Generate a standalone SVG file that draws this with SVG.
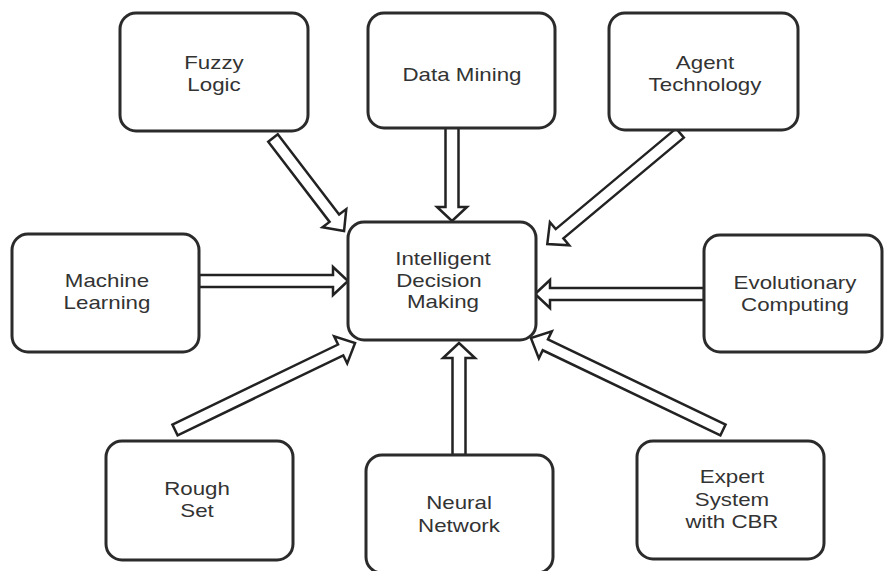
<svg xmlns="http://www.w3.org/2000/svg" width="884" height="571" viewBox="0 0 884 571">
  <style>
    .box { fill: #fff; stroke: #2b2b2b; stroke-width: 3; }
    .lbl { font-family: "Liberation Sans", Arial, sans-serif; font-size: 18px; fill: #333; text-anchor: middle; }
    .arr { fill: #fff; stroke: #222; stroke-width: 2.5; stroke-linejoin: miter; }
  </style>
  <rect width="884" height="571" fill="#fff"/>

  <!-- hollow block arrows pointing at the central node -->
  <g id="connectors">
    <!-- each arrow is drawn along +x from its tail, then rotated into place -->
    <path class="arr" transform="translate(273,138) rotate(52.6)" d="M0,-6 H101 V-15 L117,0 L101,15 V6 H0 Z"/>
    <path class="arr" transform="translate(452,127) rotate(90)" d="M0,-6.5 H80 V-15 L94,0 L80,15 V6.5 H0 Z"/>
    <path class="arr" transform="translate(680,133) rotate(140.1)" d="M0,-6 H157 V-15 L173,0 L157,15 V6 H0 Z"/>
    <path class="arr" transform="translate(199,281) rotate(0)" d="M0,-6 H134 V-14 L149,0 L134,14 V6 H0 Z"/>
    <path class="arr" transform="translate(704,294) rotate(180)" d="M0,-6 H154 V-14 L169,0 L154,14 V6 H0 Z"/>
    <path class="arr" transform="translate(175,430) rotate(-25.8)" d="M0,-6 H184 V-15 L200,0 L184,15 V6 H0 Z"/>
    <path class="arr" transform="translate(459,455) rotate(-90)" d="M0,-6.5 H97 V-16 L112,0 L97,16 V6.5 H0 Z"/>
    <path class="arr" transform="translate(723,430) rotate(205.6)" d="M0,-6 H197 V-15 L213,0 L197,15 V6 H0 Z"/>
  </g>

  <!-- labels use a horizontally widened face: matrix(1.24 0 0 1 cx 0) -->
  <g id="fuzzy-logic">
    <rect class="box" x="120" y="13" width="188" height="118" rx="16"/>
    <text class="lbl" transform="matrix(1.24 0 0 1 214 0)" y="69">Fuzzy</text>
    <text class="lbl" transform="matrix(1.24 0 0 1 214 0)" y="91">Logic</text>
  </g>
  <g id="data-mining">
    <rect class="box" x="368" y="13" width="187" height="115" rx="16"/>
    <text class="lbl" transform="matrix(1.24 0 0 1 462 0)" y="81">Data Mining</text>
  </g>
  <g id="agent-technology">
    <rect class="box" x="609" y="13" width="189" height="117" rx="16"/>
    <text class="lbl" transform="matrix(1.24 0 0 1 705 0)" y="69">Agent</text>
    <text class="lbl" transform="matrix(1.24 0 0 1 705 0)" y="91">Technology</text>
  </g>
  <g id="intelligent-decision-making">
    <rect class="box" x="348" y="222" width="188" height="118" rx="16"/>
    <text class="lbl" transform="matrix(1.24 0 0 1 443 0)" y="265">Intelligent</text>
    <text class="lbl" transform="matrix(1.24 0 0 1 439 0)" y="287">Decision</text>
    <text class="lbl" transform="matrix(1.24 0 0 1 443 0)" y="308">Making</text>
  </g>
  <g id="machine-learning">
    <rect class="box" x="12" y="234" width="187" height="118" rx="16"/>
    <text class="lbl" transform="matrix(1.24 0 0 1 107 0)" y="287">Machine</text>
    <text class="lbl" transform="matrix(1.24 0 0 1 107 0)" y="309">Learning</text>
  </g>
  <g id="evolutionary-computing">
    <rect class="box" x="704" y="235" width="178" height="117" rx="16"/>
    <text class="lbl" transform="matrix(1.24 0 0 1 795 0)" y="289">Evolutionary</text>
    <text class="lbl" transform="matrix(1.24 0 0 1 795 0)" y="311">Computing</text>
  </g>
  <g id="rough-set">
    <rect class="box" x="106" y="441" width="187" height="119" rx="16"/>
    <text class="lbl" transform="matrix(1.24 0 0 1 197 0)" y="495">Rough</text>
    <text class="lbl" transform="matrix(1.24 0 0 1 197 0)" y="517">Set</text>
  </g>
  <g id="neural-network">
    <rect class="box" x="366" y="455" width="187" height="118" rx="16"/>
    <text class="lbl" transform="matrix(1.24 0 0 1 459 0)" y="509">Neural</text>
    <text class="lbl" transform="matrix(1.24 0 0 1 459 0)" y="532">Network</text>
  </g>
  <g id="expert-system-cbr">
    <rect class="box" x="637" y="441" width="187" height="118" rx="16"/>
    <text class="lbl" transform="matrix(1.24 0 0 1 732 0)" y="483">Expert</text>
    <text class="lbl" transform="matrix(1.24 0 0 1 732 0)" y="506">System</text>
    <text class="lbl" transform="matrix(1.24 0 0 1 732 0)" y="528">with CBR</text>
  </g>
</svg>
